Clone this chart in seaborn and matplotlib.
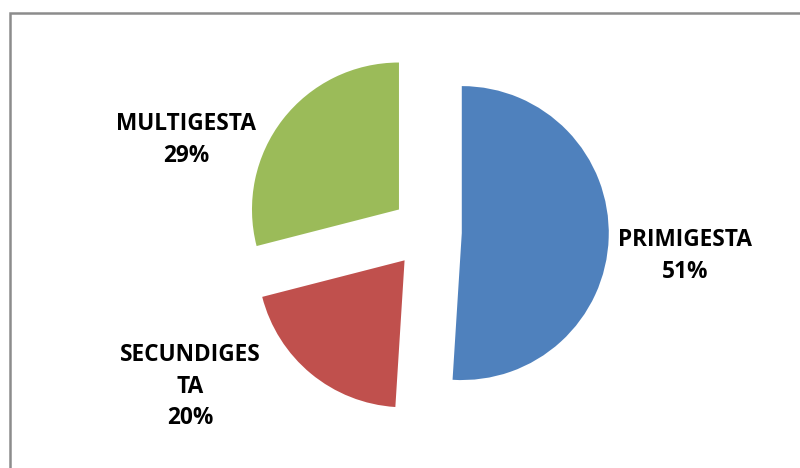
import matplotlib
matplotlib.use("Agg")
import matplotlib.pyplot as plt
import seaborn as sns
from matplotlib.patches import Rectangle

sns.set_theme(style="white")
plt.rcParams['font.family'] = ['Open Sans', 'DejaVu Sans']

categories = ["PRIMIGESTA", "SECUNDIGESTA", "MULTIGESTA"]
label_texts = ["PRIMIGESTA", "SECUNDIGES\nTA", "MULTIGESTA"]
values = [51, 20, 29]
colors = ["#4F81BD", "#C0504D", "#9BBB59"]
explode = [0.23, 0.25, 0.25]
label_pos = [(1.748, -0.163), (-1.619, -1.054), (-1.646, 0.626)]

fig = plt.figure(figsize=(8.0, 4.68), dpi=100)
fig.patch.set_facecolor("white")
ax = fig.add_axes([0, 0, 1, 1])
ax.set_axis_off()

labels = [f"{t}\n{v}%" for t, v in zip(label_texts, values)]
wedges, texts = ax.pie(values, colors=colors, explode=explode, startangle=90,
                       counterclock=False, radius=1.0, labels=labels,
                       wedgeprops=dict(linewidth=0),
                       textprops=dict(fontsize=16.3, fontweight="bold",
                                      color="black", ha="center", va="center",
                                      linespacing=1.42))
for t, p in zip(texts, label_pos):
    t.set_position(p)
    t.set_ha("center")
    t.set_va("center")
    t.set_multialignment("center")

ax.set_xlim(-2.912, 2.531)
ax.set_ylim(-1.605, 1.578)
ax.set_aspect("equal")

frame = Rectangle((9.5 / 800, -0.2), 1.2, 1 - 12.5 / 468 + 0.2,
                  transform=fig.transFigure, fill=False,
                  edgecolor="#8c8c8c", linewidth=1.8, zorder=0)
fig.patches.append(frame)

fig.savefig("out.png", dpi=100)
